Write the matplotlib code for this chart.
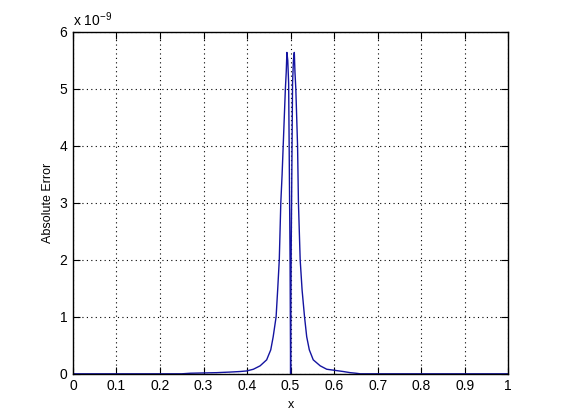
import matplotlib
matplotlib.use('Agg')
import matplotlib.pyplot as plt
import numpy as np

plt.rcParams['font.family'] = ['Liberation Sans', 'DejaVu Sans']
plt.rcParams['mathtext.fontset'] = 'custom'
plt.rcParams['mathtext.rm'] = 'Liberation Sans'

# absolute error, in units of 1e-9
x_vals = [0.0, 0.25, 0.27, 0.30, 0.33, 0.36, 0.384, 0.399, 0.4145, 0.430,
          0.445, 0.4544, 0.460, 0.4667, 0.4705, 0.474, 0.4775, 0.4805, 0.483,
          0.4855, 0.488, 0.490, 0.4915, 0.4935, 0.4955, 0.4988, 0.5,
          0.5012, 0.5045, 0.5065, 0.5085, 0.510, 0.512, 0.514, 0.516, 0.518,
          0.520, 0.522, 0.5264, 0.532, 0.537, 0.543, 0.552, 0.568, 0.583,
          0.602, 0.621, 0.637, 0.65, 0.66, 1.0]
err_vals = [0.0, 0.0, 0.01, 0.015, 0.02, 0.03, 0.04, 0.05, 0.08, 0.14,
            0.245, 0.42, 0.65, 1.0, 1.5, 2.0, 3.0, 3.5, 4.0,
            4.5, 5.0, 5.3, 5.64, 5.5, 5.1, 2.0, 0.0,
            2.0, 5.1, 5.5, 5.64, 5.3, 5.0, 4.5, 4.0, 3.0,
            2.5, 2.0, 1.47, 1.0, 0.65, 0.42, 0.245, 0.14, 0.08,
            0.06, 0.04, 0.02, 0.01, 0.0, 0.0]

fig = plt.figure(figsize=(5.61, 4.2), dpi=100)
ax = fig.add_axes([0.13, 0.11, 0.776, 0.814])

ax.plot(x_vals, err_vals, color='#1414a0', lw=1.0)

ax.set_xlim(0, 1)
ax.set_ylim(0, 6)
ax.set_xticks(np.arange(0, 1.01, 0.1))
ax.set_xticklabels(['0', '0.1', '0.2', '0.3', '0.4', '0.5', '0.6', '0.7', '0.8', '0.9', '1'])
ax.set_yticks(range(0, 7))
ax.grid(True, color='black', linestyle=(0, (1, 3)), linewidth=0.8)
ax.tick_params(direction='in', top=True, right=True, length=5, labelsize=10, pad=4)
for s in ax.spines.values():
    s.set_linewidth(1.0)

ax.set_xlabel('x', fontsize=9)
ax.set_ylabel('Absolute Error', fontsize=9)
ax.text(0.0, 1.01, r'x 10$^{-9}$', transform=ax.transAxes, fontsize=10,
        ha='left', va='bottom')

fig.savefig('out.png', dpi=100)
